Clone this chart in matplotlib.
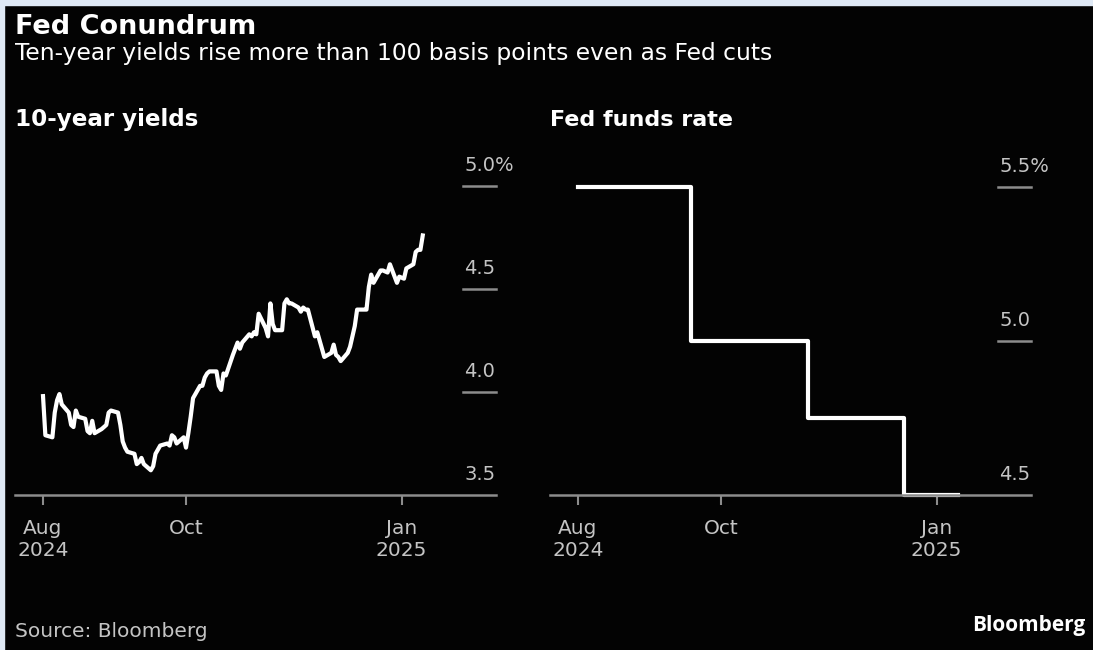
import numpy as np
import pandas as pd
import matplotlib
matplotlib.use("Agg")
import matplotlib.pyplot as plt
import matplotlib.dates as mdates
from matplotlib.patches import Rectangle

# 10-year Treasury yield, daily closes (%)
yield_dates = [
    "2024-08-01", "2024-08-02", "2024-08-05", "2024-08-06", "2024-08-07", "2024-08-08",
    "2024-08-09", "2024-08-12", "2024-08-13", "2024-08-14", "2024-08-15", "2024-08-16",
    "2024-08-19", "2024-08-20", "2024-08-21", "2024-08-22", "2024-08-23", "2024-08-26",
    "2024-08-27", "2024-08-28", "2024-08-29", "2024-08-30",
    "2024-09-02", "2024-09-03", "2024-09-04", "2024-09-05", "2024-09-06", "2024-09-09",
    "2024-09-10", "2024-09-11", "2024-09-12", "2024-09-13", "2024-09-16", "2024-09-17",
    "2024-09-18", "2024-09-19", "2024-09-20", "2024-09-23", "2024-09-24", "2024-09-25",
    "2024-09-26", "2024-09-27", "2024-09-30",
    "2024-10-01", "2024-10-02", "2024-10-03", "2024-10-04", "2024-10-07", "2024-10-08",
    "2024-10-09", "2024-10-10", "2024-10-11", "2024-10-14", "2024-10-15", "2024-10-16",
    "2024-10-17", "2024-10-18", "2024-10-21", "2024-10-22", "2024-10-23", "2024-10-24",
    "2024-10-25", "2024-10-28", "2024-10-29", "2024-10-30", "2024-10-31",
    "2024-11-01", "2024-11-04", "2024-11-05", "2024-11-06", "2024-11-07", "2024-11-08",
    "2024-11-11", "2024-11-12", "2024-11-13", "2024-11-14", "2024-11-15", "2024-11-18",
    "2024-11-19", "2024-11-20", "2024-11-21", "2024-11-22", "2024-11-25", "2024-11-26",
    "2024-11-27", "2024-11-29",
    "2024-12-02", "2024-12-03", "2024-12-04", "2024-12-05", "2024-12-06", "2024-12-09",
    "2024-12-10", "2024-12-11", "2024-12-12", "2024-12-13", "2024-12-16", "2024-12-17",
    "2024-12-18", "2024-12-19", "2024-12-20", "2024-12-23", "2024-12-24", "2024-12-26",
    "2024-12-27", "2024-12-30", "2024-12-31",
    "2025-01-02", "2025-01-03", "2025-01-06", "2025-01-07", "2025-01-08", "2025-01-09",
    "2025-01-10",
]
yields = [
    3.98, 3.79, 3.78, 3.90, 3.96, 3.99,
    3.94, 3.90, 3.84, 3.83, 3.91, 3.88,
    3.87, 3.81, 3.80, 3.86, 3.80, 3.82,
    3.83, 3.84, 3.90, 3.91,
    3.90, 3.84, 3.76, 3.73, 3.71, 3.70,
    3.65, 3.66, 3.68, 3.65, 3.62, 3.64,
    3.70, 3.72, 3.74, 3.75, 3.74, 3.79,
    3.78, 3.75, 3.78,
    3.73, 3.80, 3.88, 3.97, 4.03, 4.03,
    4.07, 4.09, 4.10, 4.10, 4.03, 4.01,
    4.09, 4.08, 4.18, 4.21, 4.24, 4.21,
    4.24, 4.28, 4.27, 4.29, 4.28,
    4.38, 4.31, 4.27, 4.43, 4.33, 4.30,
    4.30, 4.43, 4.45, 4.43, 4.43, 4.41,
    4.39, 4.41, 4.40, 4.40, 4.27, 4.29,
    4.25, 4.17,
    4.19, 4.23, 4.18, 4.17, 4.15, 4.19,
    4.22, 4.27, 4.32, 4.40, 4.40, 4.40,
    4.51, 4.57, 4.53, 4.59, 4.59, 4.58,
    4.62, 4.53, 4.56,
    4.55, 4.60, 4.62, 4.68, 4.69, 4.69,
    4.76,
]

# Fed funds target rate, upper bound (%)
fed_dates = ["2024-08-01", "2024-09-18", "2024-11-07", "2024-12-18", "2025-01-10"]
fed_rate = [5.50, 5.00, 4.75, 4.50, 4.50]

tick_dates = ["2024-08-01", "2024-10-01", "2025-01-01"]
tick_labels = ["Aug\n2024", "Oct", "Jan\n2025"]

left_ticks = [3.5, 4.0, 4.5, 5.0]
left_tick_labels = ["3.5", "4.0", "4.5", "5.0%"]
right_ticks = [4.5, 5.0, 5.5]
right_tick_labels = ["4.5", "5.0", "5.5%"]

W, H = 1093, 650
BG = "#030303"
GRID = "#8c8c8c"
LABEL = "#c4c4c4"
FONT = ["DejaVu Sans"]

plt.rcParams["font.family"] = FONT

fig = plt.figure(figsize=(W / 100, H / 100), dpi=100, facecolor=BG)

def fx(px):
    return px / W

def fy(py):
    return 1 - py / H

# thin light frame at top and left edge
fig.patches.append(Rectangle((0, fy(5)), 1, 5 / H, transform=fig.transFigure,
                             color="#dfe9f5", zorder=0))
fig.patches.append(Rectangle((0, 0), 4 / W, 1, transform=fig.transFigure,
                             color="#dfe9f5", zorder=0))

fig.text(fx(15), fy(34), "Fed Conundrum", color="white", fontsize=19.5,
         fontweight="bold", va="baseline")
fig.text(fx(15), fy(60), "Ten-year yields rise more than 100 basis points even as Fed cuts",
         color="white", fontsize=16.8, va="baseline")
fig.text(fx(15), fy(126), "10-year yields", color="white", fontsize=16.6,
         fontweight="bold", va="baseline")
fig.text(fx(550), fy(126), "Fed funds rate", color="white", fontsize=16,
         fontweight="bold", va="baseline")
fig.text(fx(15), fy(637), "Source: Bloomberg", color=LABEL, fontsize=14.5,
         va="baseline")
fig.text(fx(1085), fy(631), "Bloomberg", color="white", fontsize=15,
         fontweight="bold", va="baseline", ha="right", family=["Open Sans", "DejaVu Sans"])

x0 = mdates.date2num(pd.Timestamp("2024-08-01")) - 11.95
span = 205.2

def panel(left_px, ylo, yhi, ticks, labels):
    ax = fig.add_axes([fx(left_px), fy(495), 481 / W, 345 / H])
    ax.set_facecolor("none")
    ax.set_xlim(x0, x0 + span)
    ax.set_ylim(ylo, yhi)
    for s in ["top", "right", "left"]:
        ax.spines[s].set_visible(False)
    ax.spines["bottom"].set_color(GRID)
    ax.spines["bottom"].set_linewidth(1.8)
    ax.set_yticks([])
    ax.set_xticks(mdates.date2num(pd.to_datetime(tick_dates)))
    ax.set_xticklabels(tick_labels, color=LABEL, fontsize=14.5, linespacing=1.25)
    ax.tick_params(axis="x", length=7, width=1.5, color=GRID, pad=10)
    trans = ax.get_yaxis_transform()
    for v, lab in zip(ticks, labels):
        if v != ticks[0]:
            ax.plot([0.931, 1.0], [v, v], transform=trans, color=GRID, lw=1.8,
                    clip_on=False)
        ax.annotate(lab, xy=(0.934, v), xycoords=trans, xytext=(0, 10.5),
                    textcoords="offset points", color=LABEL, fontsize=14,
                    ha="left", va="baseline")
    return ax

ax1 = panel(15, 3.5, 3.5 + 345 / 206, left_ticks, left_tick_labels)
ax1.plot(mdates.date2num(pd.to_datetime(yield_dates)), yields, color="white",
         lw=3, solid_joinstyle="round", clip_on=False)

ax2 = panel(550, 4.5, 4.5 + 345 / 308, right_ticks, right_tick_labels)
ax2.plot(mdates.date2num(pd.to_datetime(fed_dates)), fed_rate, color="white",
         lw=3, drawstyle="steps-post", clip_on=False)

fig.savefig("out.png", dpi=100, facecolor=BG)
